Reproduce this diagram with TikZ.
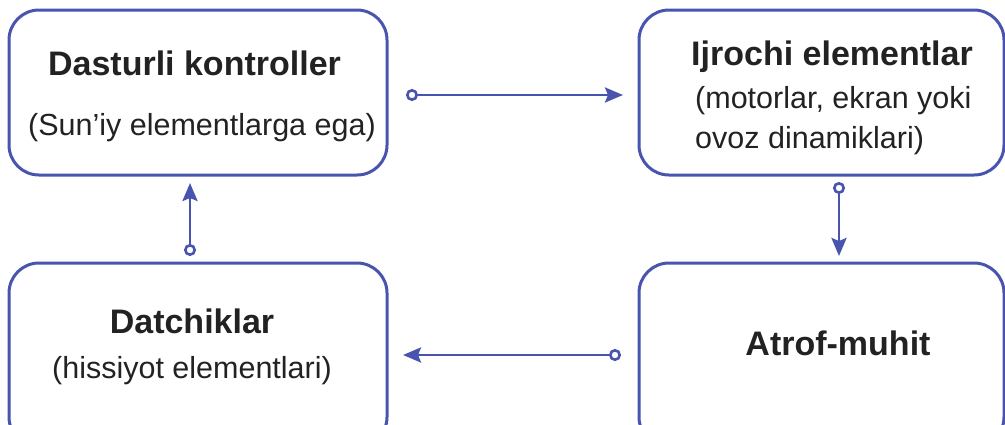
\documentclass[tikz,border=0pt]{standalone}
\usepackage{fontspec}
\setmainfont{Liberation Sans}
\usetikzlibrary{arrows.meta}
\definecolor{lineblue}{HTML}{4854AD}
\definecolor{txt}{HTML}{222222}
\tikzset{
  box/.style={draw=lineblue, line width=3pt, rounded corners=30pt, inner sep=0pt, outer sep=0pt},
  head/.style={anchor=base, inner sep=0pt, text=txt, font=\fontsize{34}{40}\selectfont\bfseries},
  sub/.style={anchor=base, inner sep=0pt, text=txt, font=\fontsize{30.5}{40}\selectfont},
  conn/.style={draw=lineblue, line width=2.8pt,
    {Circle[open,length=12pt,width=12pt,fill=white,line width=2.6pt]}-{Stealth[length=18pt,width=15pt,inset=3pt]}}
}
\begin{document}
\begin{tikzpicture}[x=1pt,y=-1pt]
\useasboundingbox (0,0) rectangle (1005,424);
\clip (0,0) rectangle (1005,424);
% boxes
\node[box, minimum width=378pt, minimum height=165pt] (tl) at (198,92.5) {};
\node[box, minimum width=365pt, minimum height=165pt] (tr) at (821.5,92.5) {};
\node[box, minimum width=378pt, minimum height=184pt] (bl) at (198,355) {};
\node[box, minimum width=365pt, minimum height=184pt] (br) at (821.5,355) {};
% texts
\node[head] (tlh) at (194.5,75) {Dasturli kontroller};
\node[sub] (tls) at (202,135) {(Sun’iy elementlarga ega)};
\node[head] (trh) at (832,65) {Ijrochi elementlar};
\node[sub, anchor=base west] (trs1) at (695,108) {(motorlar, ekran yoki};
\node[sub, anchor=base west] (trs2) at (695,148) {ovoz dinamiklari)};
\node[head] (blh) at (192,333) {Datchiklar};
\node[sub] (bls) at (192,378) {(hissiyot elementlari)};
\node[head] (brh) at (838,355) {Atrof-muhit};
% connectors
\draw[conn, shorten <=19pt, shorten >=16pt] ([yshift=-2.5pt]tl.east) -- ([yshift=-2.5pt]tr.west);
\draw[conn, shorten <=7pt, shorten >=7pt] ([xshift=17.5pt]tr.south) -- ([xshift=17.5pt]br.north);
\draw[conn, shorten <=18pt, shorten >=16pt] (br.west) -- (bl.east);
\draw[conn, shorten <=7pt, shorten >=8pt] ([xshift=-8pt]bl.north) -- ([xshift=-8pt]tl.south);
\end{tikzpicture}
\end{document}
